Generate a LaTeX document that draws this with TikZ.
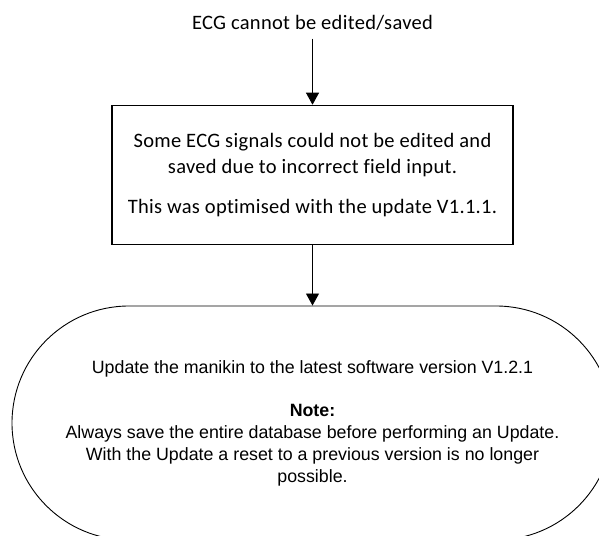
\documentclass[tikz,border=0pt]{standalone}
\usepackage{fontspec}
\setmainfont{Carlito}[Ligatures=NoCommon, LetterSpace=1.5]
\newfontfamily\notefont{Liberation Sans}
\usetikzlibrary{arrows.meta,positioning,shapes.misc}

\tikzset{
  flowarrow/.style={line width=0.9pt, -{Triangle[width=13pt,length=12pt]}},
  causebox/.style={draw, line width=1.6pt, minimum width=401pt, minimum height=139pt,
    align=center, font=\fontsize{20.5}{26}\selectfont},
  terminal/.style={draw, line width=0.9pt, rounded rectangle, minimum width=601pt,
    minimum height=234pt, inner sep=0pt, align=center,
    font=\notefont\fontsize{17.8}{22}\selectfont},
}

\begin{document}
\begin{tikzpicture}[x=1pt,y=1pt]
\path[use as bounding box, clip] (0,0) rectangle (599,535);

\node[font=\fontsize{20.5}{26}\selectfont, inner sep=8pt] (symptom) at (312.5,512) {ECG cannot be edited/saved};
\node[causebox] (cause) at (312.5,360) {Some ECG signals could not be edited and\\saved due to incorrect field input.\\[14pt]This was optimised with the update V1.1.1.};
\node[terminal] (upd) at (312.5,112) {Update the manikin to the latest software version V1.2.1\\[21pt]\textbf{Note:}\\Always save the entire database before performing an Update.\\With the Update a reset to a previous version is no longer\\possible.};

\draw[flowarrow] (symptom) -- (cause);
\draw[flowarrow] (cause) -- (upd);
\end{tikzpicture}
\end{document}
